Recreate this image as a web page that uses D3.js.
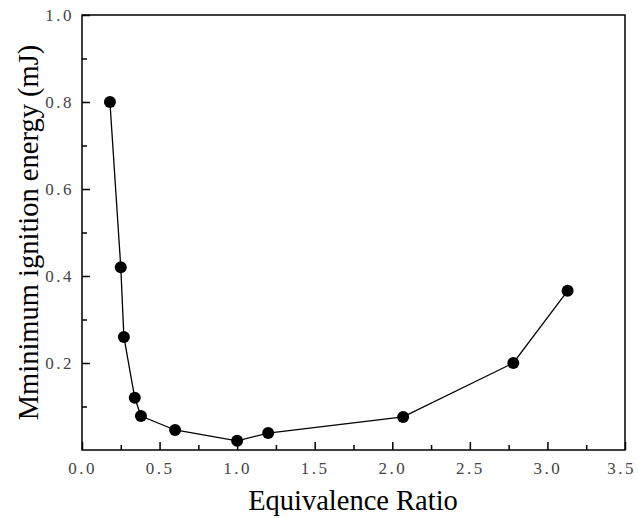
<!DOCTYPE html>
<html>
<head>
<meta charset="utf-8">
<script src="https://cdn.jsdelivr.net/npm/d3@7"></script>
<style>
  body { margin: 0; background: #fff; }
  .tick text { font-family: "Liberation Serif", serif; fill: #444; letter-spacing: 2.5px; }
</style>
</head>
<body>
<div class="chart-container"></div>
<script>
// data
var ratio  = [0.18, 0.25, 0.27, 0.34, 0.38, 0.60, 1.00, 1.20, 2.07, 2.78, 3.13];
var energy = [0.80, 0.42, 0.26, 0.12, 0.078, 0.046, 0.021, 0.039, 0.076, 0.20, 0.366];
var xTicks = [0, 0.5, 1.0, 1.5, 2.0, 2.5, 3.0, 3.5];
var yTicks = [0.2, 0.4, 0.6, 0.8, 1.0];
var xMinor = [0.25, 0.75, 1.25, 1.75, 2.25, 2.75, 3.25];
var yMinor = [0.1, 0.3, 0.5, 0.7, 0.9];

var outer_width = 638, outer_height = 518;
var margin = { top: 15, right: 13, bottom: 68, left: 82 };
var chart_width = outer_width - margin.left - margin.right;
var chart_height = outer_height - margin.top - margin.bottom;

var svg = d3.select(".chart-container").append("svg")
    .attr("width", outer_width).attr("height", outer_height);
var chart = svg.append("g").attr("transform", "translate(" + margin.left + "," + margin.top + ")");

var x = d3.scaleLinear().domain([0, 3.5]).range([0, chart_width]);
var y = d3.scaleLinear().domain([0, 1.0]).range([chart_height, 0]);

// frame
chart.append("rect")
    .attr("width", chart_width).attr("height", chart_height)
    .style("fill", "none").style("stroke", "black").style("stroke-width", 1.5);

// x axis, ticks point inward
var xAxis = chart.append("g").attr("transform", "translate(0," + chart_height + ")")
    .call(d3.axisBottom(x).tickValues(xTicks).tickSizeInner(-8).tickSizeOuter(0)
        .tickPadding(12).tickFormat(d3.format(".1f")));
chart.append("g").attr("transform", "translate(0," + chart_height + ")")
    .call(d3.axisBottom(x).tickValues(xMinor).tickSizeInner(-5).tickSizeOuter(0).tickFormat(""));

chart.append("g")
    .call(d3.axisLeft(y).tickValues(yTicks).tickSizeInner(-8).tickSizeOuter(0)
        .tickPadding(8).tickFormat(d3.format(".1f")));
chart.append("g")
    .call(d3.axisLeft(y).tickValues(yMinor).tickSizeInner(-5).tickSizeOuter(0).tickFormat(""));

chart.selectAll(".domain").remove();
chart.selectAll(".tick line").style("stroke", "black").style("stroke-width", 1.5);
chart.selectAll(".tick text").style("font-size", "17px");
// keep the last label inside the window
xAxis.selectAll(".tick text").filter(function(d){ return d === 3.5; }).attr("dx", "-4");

// line and markers
var points = ratio.map(function(d, i){ return [d, energy[i]]; });
chart.append("path").datum(points)
    .attr("d", d3.line().x(function(d){ return x(d[0]); }).y(function(d){ return y(d[1]); }))
    .style("fill", "none").style("stroke", "black").style("stroke-width", 1.3);

chart.selectAll(".dot").data(points).enter().append("circle")
    .attr("class", "dot")
    .attr("cx", function(d){ return x(d[0]); })
    .attr("cy", function(d){ return y(d[1]); })
    .attr("r", 6)
    .style("fill", "black");

// axis titles
svg.append("text")
    .attr("x", 353).attr("y", 510)
    .attr("text-anchor", "middle")
    .style("font-family", "'Liberation Serif', serif").style("font-size", "28.5px")
    .text("Equivalence Ratio");

svg.append("text")
    .attr("transform", "translate(38," + (margin.top + chart_height / 2) + ") rotate(-90)")
    .attr("text-anchor", "middle")
    .style("font-family", "'Liberation Serif', serif").style("font-size", "28.5px")
    .text("Mminimum ignition energy (mJ)");
</script>
</body>
</html>
